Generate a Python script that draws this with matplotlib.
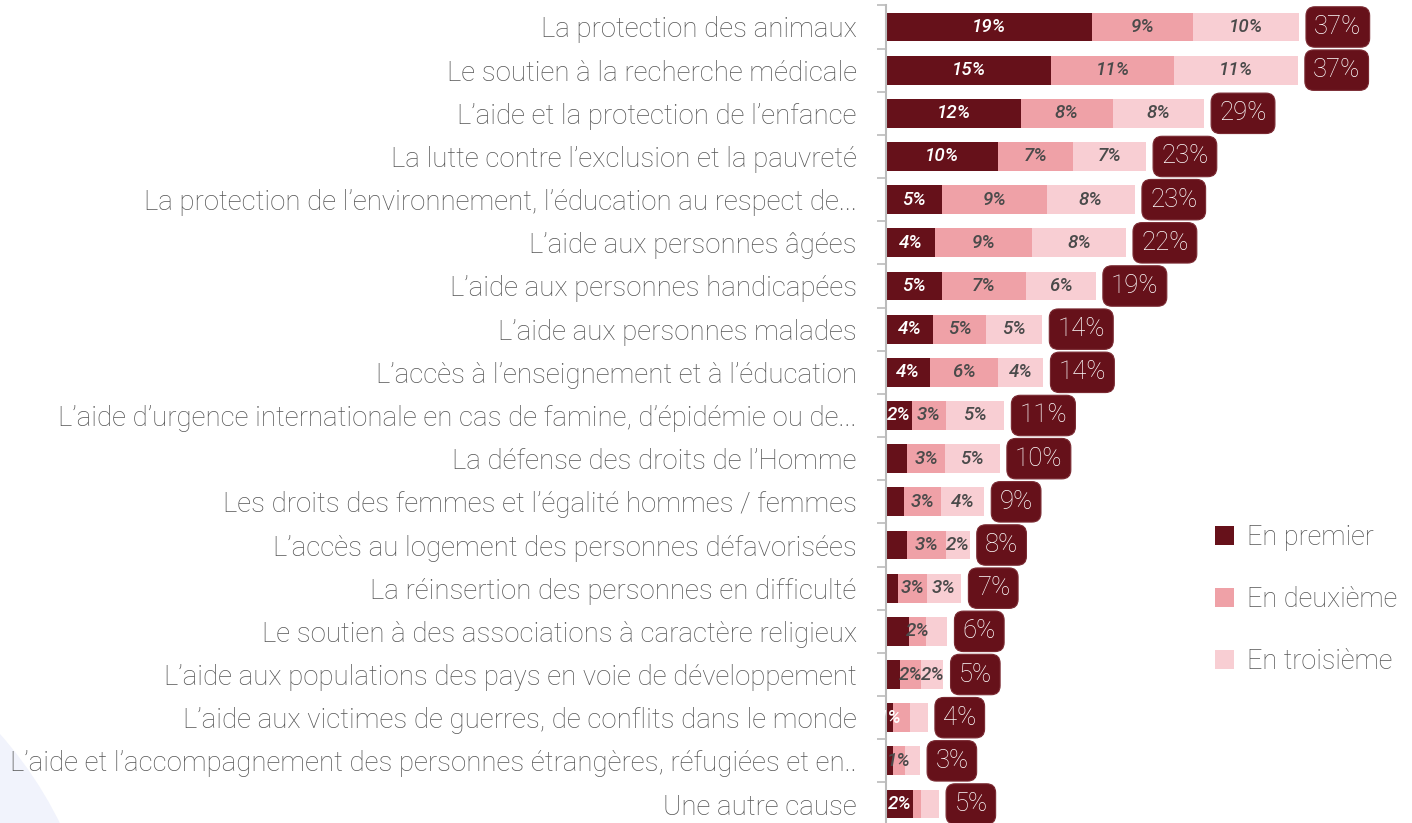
import matplotlib
matplotlib.use("Agg")
import matplotlib.pyplot as plt
from matplotlib.patches import Patch, Ellipse
import numpy as np

categories = [
    "La protection des animaux",
    "Le soutien à la recherche médicale",
    "L’aide et la protection de l’enfance",
    "La lutte contre l’exclusion et la pauvreté",
    "La protection de l’environnement, l’éducation au respect de...",
    "L’aide aux personnes âgées",
    "L’aide aux personnes handicapées",
    "L’aide aux personnes malades",
    "L’accès à l’enseignement et à l’éducation",
    "L’aide d’urgence internationale en cas de famine, d’épidémie ou de...",
    "La défense des droits de l’Homme",
    "Les droits des femmes et l’égalité hommes / femmes",
    "L’accès au logement des personnes défavorisées",
    "La réinsertion des personnes en difficulté",
    "Le soutien à des associations à caractère religieux",
    "L’aide aux populations des pays en voie de développement",
    "L’aide aux victimes de guerres, de conflits dans le monde",
    "L’aide et l’accompagnement des personnes étrangères, réfugiées et en..",
    "Une autre cause",
]

series_names = ["En premier", "En deuxième", "En troisième"]

premier = [18.5, 14.8, 12.1, 10.0, 5.0, 4.4, 5.0, 4.2, 3.9, 2.3, 1.9, 1.6, 1.9, 1.05, 2.1, 1.25, 0.6, 0.6, 2.4]
deuxieme = [9.0, 11.0, 8.2, 6.8, 9.4, 8.7, 7.5, 4.8, 6.1, 3.1, 3.4, 3.3, 3.5, 2.6, 1.5, 1.9, 1.55, 1.1, 0.75]
troisieme = [9.5, 11.1, 8.2, 6.5, 7.9, 8.4, 6.3, 5.0, 4.1, 5.2, 4.9, 3.9, 2.1, 3.1, 1.9, 2.0, 1.6, 1.35, 1.6]

labels_premier = ["19%", "15%", "12%", "10%", "5%", "4%", "5%", "4%", "4%", "2%", "", "", "", "", "", "", "1%", "", "2%"]
labels_deuxieme = ["9%", "11%", "8%", "7%", "9%", "9%", "7%", "5%", "6%", "3%", "3%", "3%", "3%", "3%", "2%", "2%", "", "1%", ""]
labels_troisieme = ["10%", "11%", "8%", "7%", "8%", "8%", "6%", "5%", "4%", "5%", "5%", "4%", "2%", "3%", "", "2%", "", "", ""]

totals = ["37%", "37%", "29%", "23%", "23%", "22%", "19%", "14%", "14%", "11%", "10%", "9%", "8%", "7%", "6%", "5%", "4%", "3%", "5%"]

colors = ["#66111A", "#EFA1A7", "#F8CED3"]
label_colors = ["white", "#4a4a4a", "#4a4a4a"]

TXT_FONT = ["Roboto", "DejaVu Sans"]
plt.rcParams["font.family"] = TXT_FONT

W, H = 1412, 823
fig = plt.figure(figsize=(W / 100, H / 100), dpi=100)
fig.patch.set_facecolor("white")

# faint decorative shape bottom-left
fig.add_artist(Ellipse((-300 / W, (H - 1000) / H), 2 * 401 / W, 2 * 401 / H,
                       transform=fig.transFigure, facecolor="#F1F3FC",
                       edgecolor="none", zorder=0))

ax_left = 886 / W
ax_w = 45 * 11.16 / W
top_px, bot_px = 5.4, 825.6
ax = fig.add_axes([ax_left, 1 - bot_px / H, ax_w, (bot_px - top_px) / H])
ax.set_facecolor("none")

y = np.arange(len(categories))
data = [premier, deuxieme, troisieme]
lab = [labels_premier, labels_deuxieme, labels_troisieme]
left = np.zeros(len(categories))
for i in range(3):
    vals = np.array(data[i])
    bars = ax.barh(y, vals, left=left, height=0.67, color=colors[i],
                   label=series_names[i], zorder=2)
    ax.bar_label(bars, labels=lab[i], label_type="center", color=label_colors[i],
                 fontsize=13.5, fontstyle="italic", fontweight="medium", zorder=3)
    left = left + vals

for yi, tot, txt in zip(y, left, totals):
    ax.annotate(txt, xy=(tot, yi), xytext=(11, 0), textcoords="offset points",
                ha="left", va="center", color="white", fontsize=18.5,
                fontweight="light",
                bbox=dict(boxstyle="round,pad=0.32,rounding_size=0.35",
                          facecolor="#66111A", edgecolor="#7a2a32", lw=0.8),
                annotation_clip=False, zorder=4)

ax.set_xlim(0, 45)
ax.set_ylim(len(categories) - 0.5, -0.5)
ax.set_yticks(y)
ax.set_yticklabels(categories, fontsize=19.9, color="#555555", fontweight="light")
ax.set_yticks(np.arange(-0.5, len(categories), 1.0), minor=True)
ax.tick_params(axis="y", which="major", length=0, pad=21)
ax.tick_params(axis="y", which="minor", length=6.5, width=1.2, color="#BBBBBB")
ax.set_xticks([])
for s in ["top", "right", "bottom"]:
    ax.spines[s].set_visible(False)
ax.spines["left"].set_color("#BBBBBB")
ax.spines["left"].set_linewidth(1.5)

handles = [Patch(facecolor=c, edgecolor="none") for c in colors]
fig.legend(handles, series_names, loc="upper left",
           bbox_to_anchor=(1191 / W, 1 - 500 / H), frameon=False,
           labelcolor="#555555", handlelength=0.7, handleheight=0.7,
           handletextpad=0.45, labelspacing=1.29, prop=dict(weight="light", size=19.5))

fig.savefig("out.png", dpi=100, facecolor="white")
